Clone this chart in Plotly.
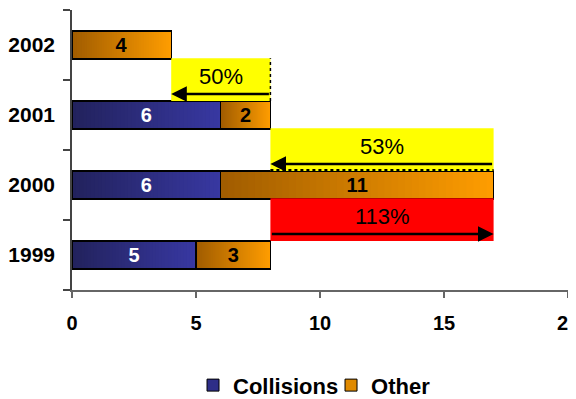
import plotly.graph_objects as go

# ---- data ----
years = ["1999", "2000", "2001", "2002"]
collisions = [5, 6, 6, 0]
other = [3, 11, 2, 4]
x_ticks = [0, 5, 10, 15, 20]
# year-over-year comparisons (old year, new year)
changes = [("2001", "2002"), ("2000", "2001"), ("1999", "2000")]

totals = [c + o for c, o in zip(collisions, other)]
idx = {y: i for i, y in enumerate(years)}

BAR_W = 0.4
FONT = "Liberation Sans, Arial, sans-serif"


def lerp(c1, c2, t):
    return "rgb(%d,%d,%d)" % tuple(round(a + (b - a) * t) for a, b in zip(c1, c2))


GRAD = {
    "Collisions": ((0x22, 0x22, 0x5c), (0x38, 0x38, 0xa2)),
    "Other": ((0xa0, 0x5c, 0x00), (0xff, 0x9d, 0x00)),
}
SOLID = {"Collisions": "#2e2e88", "Other": "#e08a00"}

fig = go.Figure()
shapes = []

N = 40
for name, vals, bases in [("Collisions", collisions, [0] * 4),
                          ("Other", other, collisions)]:
    c1, c2 = GRAD[name]
    for i, (v, b) in enumerate(zip(vals, bases)):
        if v <= 0:
            continue
        for k in range(N):
            shapes.append(dict(
                type="rect", xref="x", yref="y", layer="below",
                x0=b + v * k / N, x1=b + v,
                y0=i - BAR_W / 2, y1=i + BAR_W / 2,
                fillcolor=lerp(c1, c2, (k + 0.5) / N), line=dict(width=0)))

fig.add_trace(go.Bar(
    y=years, x=collisions, orientation="h", name="Collisions", showlegend=False,
    marker=dict(color="rgba(0,0,0,0)", line=dict(color="black", width=1.2)),
    text=[str(v) if v else "" for v in collisions], textposition="inside",
    insidetextanchor="middle", constraintext="none", textangle=0,
    textfont=dict(color="white", size=20, family=FONT, weight="bold"),
    width=BAR_W))
fig.add_trace(go.Bar(
    y=years, x=other, orientation="h", name="Other", showlegend=False,
    marker=dict(color="rgba(0,0,0,0)", line=dict(color="black", width=1.2)),
    text=[str(v) if v else "" for v in other], textposition="inside",
    insidetextanchor="middle", constraintext="none", textangle=0,
    textfont=dict(color="black", size=20, family=FONT, weight="bold"),
    width=BAR_W))

# legend-only traces
for name in ["Collisions", "Other"]:
    fig.add_trace(go.Bar(y=[None], x=[None], orientation="h", name=name,
                         marker=dict(color=SOLID[name], line=dict(color="black", width=1))))

annotations = []
for old, new in changes:
    io, inew = idx[old], idx[new]
    t_old, t_new = totals[io], totals[inew]
    pct = (t_new - t_old) / t_old * 100
    k = min(io, inew)
    color = "#ff0000" if pct > 0 else "#ffff00"
    x0, x1 = min(t_old, t_new), max(t_old, t_new)
    shapes.append(dict(type="rect", xref="x", yref="y", x0=x0, x1=x1,
                       y0=k + 0.2, y1=k + 0.81, fillcolor=color, line=dict(width=0)))
    annotations.append(dict(x=(x0 + x1) / 2, y=k + 0.55, xref="x", yref="y",
                            text="%d%%" % int(abs(pct) + 0.5), showarrow=False,
                            font=dict(size=22, color="black", family=FONT)))
    annotations.append(dict(x=t_new, y=k + 0.3, ax=t_old, ay=k + 0.3,
                            xref="x", yref="y", axref="x", ayref="y", text="",
                            showarrow=True, arrowhead=2, arrowsize=1.3, arrowwidth=2.4,
                            arrowcolor="black", standoff=0, startstandoff=0))

# dotted edges seen in the reference
shapes.append(dict(type="line", xref="x", yref="y", x0=totals[idx["2001"]], x1=totals[idx["2001"]],
                   y0=2.2, y1=2.81, line=dict(color="black", width=1.5, dash="dot")))
shapes.append(dict(type="line", xref="x", yref="y", x0=totals[idx["2001"]], x1=totals[idx["2000"]],
                   y0=1.215, y1=1.215, line=dict(color="black", width=2, dash="dot")))

# page body keeps an 8px margin (left/top)
fig.update_layout(
    width=568, height=391,
    margin=dict(l=64, r=8, t=2, b=109),
    barmode="stack",
    plot_bgcolor="white", paper_bgcolor="white",
    font=dict(family=FONT, color="black"),
    shapes=shapes, annotations=annotations,
    legend=dict(orientation="h", x=0.244, xanchor="left",
                yref="container", y=0.035, yanchor="middle",
                entrywidth=93, entrywidthmode="pixels",
                font=dict(size=22, family=FONT, weight="bold"), traceorder="normal"),
    xaxis=dict(range=[0, 20], tickvals=x_ticks, showgrid=False, zeroline=False,
               showline=True, linecolor="#666", linewidth=1.5, automargin=False,
               ticks="outside", ticklen=6, tickcolor="#666", tickwidth=1.5,
               ticklabelstandoff=8, ticklabeloverflow="allow",
               tickfont=dict(size=20, family=FONT, weight="bold")),
    yaxis=dict(categoryorder="array", categoryarray=years, showgrid=False,
               showline=True, linecolor="#444", linewidth=1.5, automargin=False,
               ticks="outside", ticklen=7, tickcolor="#444", tickwidth=1.5,
               tickson="boundaries", ticklabelstandoff=11,
               range=[-0.5, 3.5],
               tickfont=dict(size=21, family=FONT, weight="bold")),
)

fig.write_html("out.html")
